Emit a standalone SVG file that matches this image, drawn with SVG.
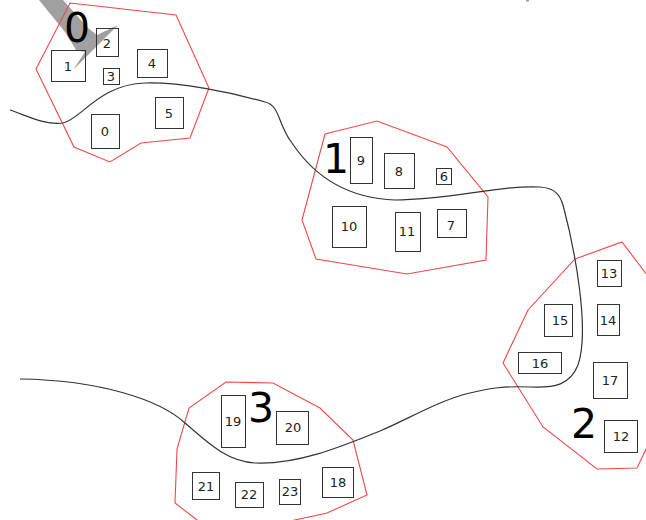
<svg xmlns="http://www.w3.org/2000/svg" width="646" height="520" viewBox="0 0 646 520">
<style>
.hull{fill:none;stroke:#f04848;stroke-width:1.1}
.box rect{fill:none;stroke:#333;stroke-width:1}
.box text{font-family:"DejaVu Sans",sans-serif;font-size:13px;fill:#222;text-anchor:middle}
.big{font-family:"DejaVu Sans",sans-serif;font-size:41px;fill:#000;text-anchor:middle}
.curve{fill:none;stroke:#333;stroke-width:1.2}
</style>
<rect width="646" height="520" fill="#fff"/>
<polygon points="39,0 63,0 88,28 97,35 118,25 73,70 85,52 76,50 65,32" fill="#a0a0a0"/>
<rect x="526" y="0" width="3" height="1.5" fill="#a0a0a0"/>

<g id="cluster0">
<polygon class="hull" points="70,3 176,15 209,88 190,138 141,143 110,162 74,147 36,69"/>
<text class="big" x="77" y="42">0</text>
<g id="n1" class="box"><rect x="51.5" y="50.5" width="34" height="31"/><text x="68" y="71">1</text></g>
<g id="n2" class="box"><rect x="96.5" y="28.5" width="22" height="28"/><text x="107" y="48">2</text></g>
<g id="n3" class="box"><rect x="103.5" y="68.5" width="16" height="16"/><text x="111" y="81">3</text></g>
<g id="n4" class="box"><rect x="137.5" y="49.5" width="30" height="28"/><text x="152" y="68">4</text></g>
<g id="n5" class="box"><rect x="155.5" y="97.5" width="28" height="31"/><text x="169" y="118">5</text></g>
<g id="n0" class="box"><rect x="91.5" y="114.5" width="28" height="34"/><text x="105" y="136">0</text></g>
</g>

<g id="cluster1">
<polygon class="hull" points="325,134 377,121 447,147 488,197 486,260 407,274 316,259 302,220"/>
<text class="big" x="336" y="173">1</text>
<g id="n9" class="box"><rect x="350.5" y="137.5" width="22" height="46"/><text x="361" y="165">9</text></g>
<g id="n8" class="box"><rect x="384.5" y="153.5" width="30" height="35"/><text x="399" y="176">8</text></g>
<g id="n6" class="box"><rect x="436.5" y="168.5" width="15" height="16"/><text x="444" y="181">6</text></g>
<g id="n10" class="box"><rect x="332.5" y="206.5" width="34" height="41"/><text x="349" y="231">10</text></g>
<g id="n11" class="box"><rect x="395.5" y="212.5" width="25" height="39"/><text x="407" y="236">11</text></g>
<g id="n7" class="box"><rect x="437.5" y="209.5" width="29" height="28"/><text x="451" y="230">7</text></g>
</g>

<g id="cluster2">
<polygon class="hull" points="575,259 622,242 660,292 660,420 637,468 597,469 543,427 503,363 528,310"/>
<text class="big" x="584" y="438">2</text>
<g id="n13" class="box"><rect x="597.5" y="260.5" width="24" height="26"/><text x="609" y="278">13</text></g>
<g id="n14" class="box"><rect x="597.5" y="304.5" width="22" height="31"/><text x="608" y="325">14</text></g>
<g id="n15" class="box"><rect x="544.5" y="304.5" width="28" height="32"/><text x="560" y="325">15</text></g>
<g id="n16" class="box"><rect x="518.5" y="352.5" width="43" height="21"/><text x="540" y="368">16</text></g>
<g id="n17" class="box"><rect x="593.5" y="362.5" width="34" height="36"/><text x="610" y="385">17</text></g>
<g id="n12" class="box"><rect x="604.5" y="420.5" width="33" height="32"/><text x="621" y="441">12</text></g>
</g>

<g id="cluster3">
<polygon class="hull" points="226,382 273,383 320,408 353,440 367,495 327,513 240,532 197,520 175,503 177,449 189,408"/>
<text class="big" x="261" y="422">3</text>
<g id="n19" class="box"><rect x="221.5" y="395.5" width="24" height="52"/><text x="233" y="426">19</text></g>
<g id="n20" class="box"><rect x="276.5" y="411.5" width="32" height="33"/><text x="293" y="432">20</text></g>
<g id="n21" class="box"><rect x="192.5" y="472.5" width="27" height="27"/><text x="206" y="491">21</text></g>
<g id="n22" class="box"><rect x="235.5" y="482.5" width="28" height="25"/><text x="249" y="499">22</text></g>
<g id="n23" class="box"><rect x="279.5" y="479.5" width="21" height="25"/><text x="290" y="496">23</text></g>
<g id="n18" class="box"><rect x="322.5" y="467.5" width="31" height="30"/><text x="338" y="487">18</text></g>
</g>

<g id="connectors">
<path class="curve" d="M10,110 C30,117 45,125 63,123 C80,120 100,84 145,83 C180,82 230,92 265,102 C280,105 278,125 292,143 C310,170 340,198 395,200 C450,200 500,185 540,187 C555,188 560,195 563,205 C575,250 590,330 578,365 C570,385 555,388 530,387 C505,386 490,388 470,393 C440,400 410,418 380,431 C350,443 300,465 255,463 C225,461 205,440 185,423 C160,400 100,380 20,379"/>
</g>
</svg>
